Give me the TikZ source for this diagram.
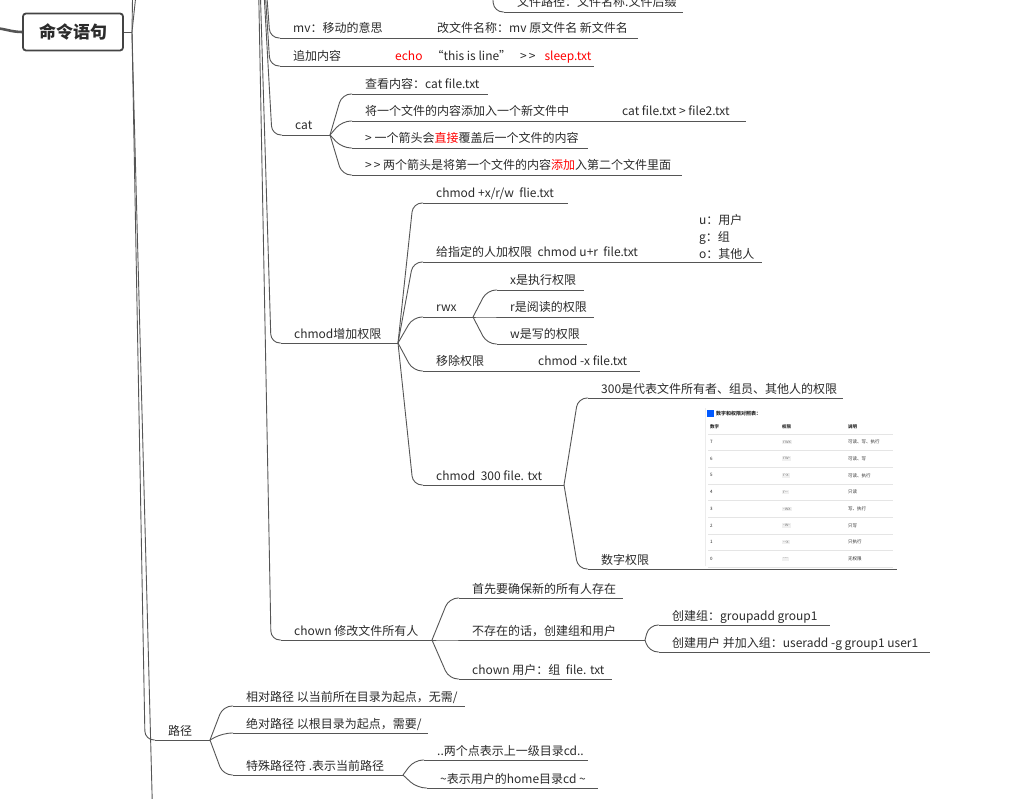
\documentclass[tikz,border=0pt]{standalone}
\usepackage{fontspec}
\setmainfont{Noto Sans CJK SC}
\usetikzlibrary{calc}

\definecolor{ink}{HTML}{2B2B2B}
\definecolor{wire}{HTML}{555555}
\definecolor{hot}{HTML}{FF0000}
\newcommand{\hot}[1]{\textcolor{hot}{#1}}

% topic: [options]{name}{text x}{line y}{line end x}{text}
\newcommand{\topic}[6][]{%
  \node[topic,#1] (#2) at (#3,{#4-5}) {#6};
  \draw[mapline] ({#3-13},#4) coordinate (#2-in) -- (#5,#4) coordinate (#2-out);}
% curved branch from a fork point to a topic
\newcommand{\branch}[2]{%
  \draw[mapline,rounded corners=9pt] (#1) -- ($(#2-in)+(-10,0)$) -- (#2-in);}

\begin{document}
\begin{tikzpicture}[x=1pt, y=-1pt,
  mapline/.style={draw=wire, line width=0.9pt},
  rootline/.style={draw=wire, line width=2.6pt},
  topic/.style={anchor=base west, inner sep=0pt, text=ink, font=\fontsize{12}{17}\selectfont},
  cmdbox/.style={draw=wire!80!black, line width=1.8pt, rounded corners=3pt, fill=white,
    minimum width=100pt, minimum height=37pt, text=ink, font=\bfseries\fontsize{17}{20}\selectfont},
  tinytext/.style={anchor=west, inner sep=0pt, text=ink, font=\fontsize{4.5}{5}\selectfont}]

	\useasboundingbox (0,0) rectangle (1033,799);
	\clip (0,0) rectangle (1033,799);
	\fill[white] (0,0) rectangle (1033,799);

	% main topic
	\coordinate (root) at (-8,28);
	\node[cmdbox] (cmd) at (73,32) {命令语句};
	\draw[rootline] (root) to[out=0,in=180] (cmd.west);
	\coordinate (cmd-out) at (132,32);
	\draw[mapline] (cmd.east) -- (cmd-out);
	\coordinate (up1) at (134,-100);
	\coordinate (up2) at (146,-100);
	\coordinate (down) at (153,830);
	\draw[mapline] (cmd-out) -- (up1);
	\draw[mapline] (cmd-out) -- (up2);
	\draw[mapline] (cmd-out) -- (down);

	% file commands (parent above the page)
	\coordinate (file) at (256,-150);
	\coordinate (fpath-top) at (486,-80);
	\topic{fpath}{517}{12}{683}{文件路径：文件名称.文件后缀}
	\branch{fpath-top}{fpath}

	% mv
	\topic{mv}{293}{38}{424}{mv：移动的意思}
	\topic{mvname}{437}{38}{638}{改文件名称：mv 原文件名 新文件名}
	\branch{file}{mv}
	\draw[mapline] (mv-out) -- (mvname-in);

	% echo
	\topic{add}{293}{66}{382}{追加内容}
	\topic{echo}{395}{66}{594}{\hot{echo}\hspace{9pt}“this is line”\hspace{9pt}>\,>\hspace{9pt}\hot{sleep.txt}}
	\branch{file}{add}
	\draw[mapline] (add-out) -- (echo-in);

	% cat
	\topic{cat}{295}{135}{330}{cat}
	\branch{file}{cat}
	\topic{catview}{365}{94}{488}{查看内容：cat file.txt}
	\topic{catnew}{365}{121}{609}{将一个文件的内容添加入一个新文件中}
	\topic{catcmd}{622}{121}{746}{cat file.txt\ >\ file2.txt}
	\topic{catover}{365}{148}{588}{>\ 一个箭头会\hot{直接}覆盖后一个文件的内容}
	\topic{catappend}{365}{175}{682}{>\,>\ 两个箭头是将第一个文件的内容\hot{添加}入第二个文件里面}
	\branch{cat-out}{catview}
	\branch{cat-out}{catnew}
	\draw[mapline] (catnew-out) -- (catcmd-in);
	\branch{cat-out}{catover}
	\branch{cat-out}{catappend}

	% chmod
	\topic{chmod}{294}{343}{398}{chmod增加权限}
	\branch{file}{chmod}
	\topic{chx}{436}{203}{568}{chmod +x/r/w\ \ flie.txt}
	\topic{chu}{436}{262}{686}{给指定的人加权限\ \ chmod u+r\ \ file.txt}
	\node[topic, align=left, anchor=south west] (ugo) at (699,260) {u：用户\\g：组\\o：其他人};
	\draw[mapline] (chu-out) -- (762,262) coordinate (ugo-out);
	\topic{rwx}{436}{317}{473}{rwx}
	\topic{rx}{510}{290}{584}{x是执行权限}
	\topic{rr}{510}{317}{594}{r是阅读的权限}
	\topic{rw}{510}{344}{587}{w是写的权限}
	\topic{chrm}{436}{371}{525}{移除权限}
	\topic{chrmcmd}{538}{371}{640}{chmod -x file.txt}
	\topic{chnum}{436}{485}{564}{chmod\ \ 300 file. txt}
	\topic{chnuma}{601}{398}{843}{300是代表文件所有者、组员、其他人的权限}
	\topic{chnumb}{601}{569}{897}{数字权限}
	\branch{chmod-out}{chx}
	\branch{chmod-out}{chu}
	\branch{chmod-out}{rwx}
	\branch{rwx-out}{rx}
	\branch{rwx-out}{rr}
	\branch{rwx-out}{rw}
	\branch{chmod-out}{chrm}
	\draw[mapline] (chrm-out) -- (chrmcmd-in);
	\branch{chmod-out}{chnum}
	\branch{chnum-out}{chnuma}
	\branch{chnum-out}{chnumb}

	% permission table (picture in topic)
	\draw[gray!15] (705,408) -- (705,566);
	\fill[blue!65!cyan] (707,410) rectangle (714,417);
	\node[tinytext, font=\bfseries\fontsize{5}{6}\selectfont] (tabtitle) at (716,413.5) {数字和权限对照表：};
	\node[tinytext, font=\bfseries\fontsize{4.5}{5}\selectfont] (tabn) at (710,427) {数字};
	\node[tinytext, font=\bfseries\fontsize{4.5}{5}\selectfont] (tabp) at (782,427) {权限};
	\node[tinytext, font=\bfseries\fontsize{4.5}{5}\selectfont] (tabd) at (848,427) {说明};
	\draw[gray!20] (708,434) -- (893,434);
	\foreach \n/\p/\d [count=\i] in {7/rwx/可读、写、执行, 6/rw{-}/可读、写, 5/r{-}x/可读、执行,
	  4/r{-}{-}/只读, 3/{-}wx/写、执行, 2/{-}w{-}/只写, 1/{-}{-}x/只执行, 0/{-}{-}{-}/无权限} {
		\node[tinytext] (num\i) at (710,{425.3+16.7*\i}) {\n};
		\node[tinytext, fill=gray!12, inner sep=1pt, text=gray] (perm\i) at (782,{425.3+16.7*\i}) {\p};
		\node[tinytext] (desc\i) at (848,{425.3+16.7*\i}) {\d};
		\draw[gray!20] (708,{433.6+16.7*\i}) -- (893,{433.6+16.7*\i});
	}

	% chown
	\topic{chown}{294}{640}{432}{chown 修改文件所有人}
	\branch{file}{chown}
	\topic{own1}{472}{598}{623}{首先要确保新的所有人存在}
	\topic{own2}{472}{640}{645}{不存在的话，创建组和用户}
	\topic{grp}{672}{625}{830}{创建组：groupadd group1}
	\topic{usr}{672}{652}{930}{创建用户 并加入组：useradd -g group1 user1}
	\topic{own3}{472}{679}{612}{chown 用户：组\ \ file. txt}
	\branch{chown-out}{own1}
	\branch{chown-out}{own2}
	\branch{own2-out}{grp}
	\branch{own2-out}{usr}
	\branch{chown-out}{own3}

	% paths
	\topic{path}{168}{740}{210}{路径}
	\branch{cmd-out}{path}
	\topic{rel}{246}{706}{465}{相对路径 以当前所在目录为起点，无需/}
	\topic{abs}{246}{733}{428}{绝对路径 以根目录为起点，需要/}
	\topic{spec}{246}{775}{403}{特殊路径符 .表示当前路径}
	\topic{dotdot}{437}{760}{588}{..两个点表示上一级目录cd..}
	\topic{home}{440}{788}{598}{\textasciitilde 表示用户的home目录cd \textasciitilde}
	\branch{path-out}{rel}
	\branch{path-out}{abs}
	\branch{path-out}{spec}
	\branch{spec-out}{dotdot}
	\branch{spec-out}{home}

\end{tikzpicture}
\end{document}
